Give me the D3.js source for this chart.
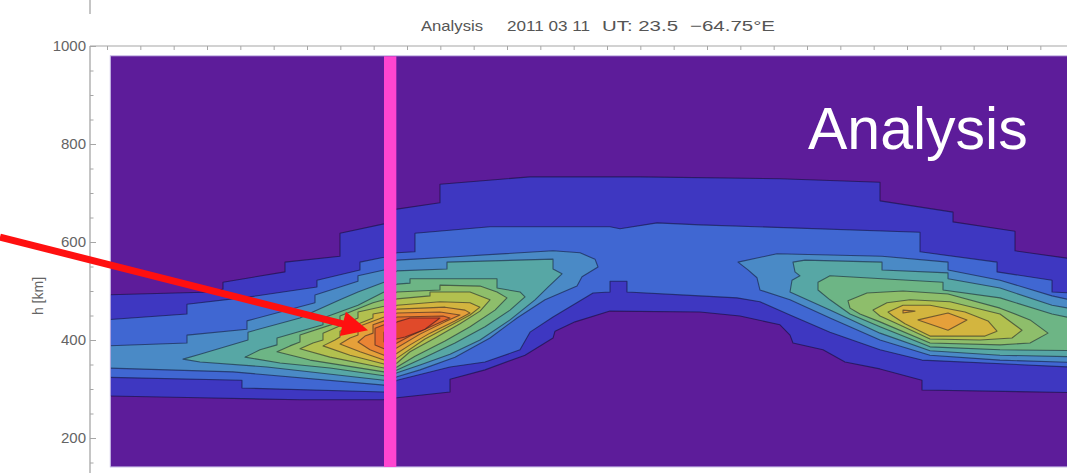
<!DOCTYPE html>
<html>
<head>
<meta charset="utf-8">
<script src="https://cdn.jsdelivr.net/npm/d3@7"></script>
<style>
  body { margin: 0; background: #fff; }
  svg { display: block; }
  text { font-family: "Liberation Sans", Arial, Helvetica, sans-serif; }
</style>
</head>
<body>
<svg id="chart" width="1067" height="473"></svg>
<script>
// ---------------- data ----------------
const titleParts = ["Analysis", "2011 03 11", "UT: 23.5", "\u221264.75\u00b0E"];
const panelLabel = "Analysis";
const yLabel = "h [km]";

const latTicks = [-60,-55,-50,-45,-40,-35,-30,-25,-20,-15,-10,-5,0,5,10,15,20,25,30,35,40,45,50,55,60,65,70,75,80,85];
const hMajorTicks = [200, 400, 600, 800, 1000];
const hMinorTicks = [150, 250, 300, 350, 450, 500, 550, 650, 700, 750, 850, 900, 950];

// extent of the gridded analysis (latitude, height)
const latExtent = [-59.5, 90];
const hExtent = [141, 980];

// highlighted meridian strip (latitude range)
const markerLat = [-18.45, -16.6];

// annotation arrow (latitude, height) from tail to tip
const arrowTail = [-76.05, 610];
const arrowTip = [-20.85, 420];

// fill colour for each contour level (0 = background)
const levelColors = ["#5d1c9a", "#3e37c1", "#4067d2", "#4a8ac6", "#57a7a5", "#6db585",
                     "#8ebe6b", "#b2c04f", "#d3b53f", "#e5a03a", "#ea8534", "#e7692e", "#e04a2a"];

// contour regions, [latitude, height km] vertices
const level1 = [[-60.3,492],[-44.1,498],[-42.6,504],[-42.6,518],[-33.3,539],[-33.3,559],[-25.05,571],[-25.05,618],
  [-18.45,637],[-17.55,641],[-17.55,665],[-10.05,680],[-10.05,718],[3.45,733],[19.95,733],[40.95,729],[55.95,722],
  [55.95,684],[66.9,661],[66.9,641],[76.2,622],[76.2,582],[84.0,567],[87.45,563],
  [87.45,292],[62.25,298],[62.25,318],[55.95,341],[50.7,355],[47.4,380],[42.9,394],[42.45,410],[40.95,431],
  [34.95,449],[28.95,457],[15.45,459],[10.2,437],[7.2,418],[6.9,404],[2.7,369],[-3.3,339],[-8.55,320],[-8.55,294],
  [-16.5,282],[-18.6,278],[-31.05,278],[-46.05,282],[-60.3,286]];

const level2 = [[-60.3,441],[-48.0,453],[-48.0,473],[-38.55,488],[-28.5,508],[-28.5,522],[-22.05,543],[-22.05,559],
  [-18.45,569],[-16.5,578],[-13.8,580],[-13.8,618],[-2.55,631],[15.45,631],[16.95,627],[22.5,639],[28.95,635],
  [61.95,620],[61.95,580],[73.5,559],[73.5,539],[81.75,522],[81.75,498],[87.45,494],
  [87.45,343],[62.25,359],[55.95,380],[48.45,416],[42.45,451],[37.95,478],[34.5,486],[28.95,490],[18.0,498],
  [18.0,520],[15.45,520],[15.45,498],[12.9,496],[6.9,447],[3.45,416],[1.95,380],[-3.3,355],[-8.55,345],
  [-16.5,318],[-18.45,294],[-39.75,302],[-39.75,318],[-60.3,324]];

const level3West = [[-60.3,388],[-48.0,394],[-48.0,410],[-39.0,422],[-39.0,439],[-28.8,476],[-28.8,492],[-22.35,520],
  [-22.35,531],[-18.45,543],[-16.5,563],[-13.8,565],[-9.0,569],[6.9,582],[10.95,578],[13.2,565],[13.65,549],
  [11.25,529],[10.5,510],[5.7,482],[1.5,445],[-2.55,404],[-7.8,365],[-13.05,339],[-16.5,325],[-18.45,308],
  [-41.1,335],[-60.3,343]];
const level3East = [[34.65,559],[40.5,576],[56.25,571],[66.15,559],[66.15,543],[73.95,522],[81.75,490],[87.45,473],
  [87.45,353],[73.95,359],[63.45,369],[55.95,400],[48.45,445],[42.45,482],[37.95,502],[37.5,527],[36.15,543]];

const level4West = [[-48.6,361],[-46.05,371],[-38.85,400],[-38.85,416],[-31.05,445],[-28.8,459],[-25.05,482],
  [-22.35,498],[-18.45,518],[-16.5,541],[-9.0,545],[-9.0,559],[6.9,565],[6.9,545],[8.25,535],
  [6.15,508],[4.2,482],[0.45,441],[-4.05,400],[-8.55,371],[-13.05,349],[-16.5,333],[-18.45,318],[-36.0,345],[-46.05,355]];
const level4East = [[42.9,559],[44.7,563],[56.25,559],[56.25,543],[66.15,537],[66.15,525],[73.95,506],[81.75,471],[87.45,457],
  [87.45,365],[73.95,369],[63.45,378],[55.95,414],[48.45,461],[42.45,498],[42.75,522],[43.95,531],[43.2,539]];

const level5West = [[-39.3,365],[-37.05,380],[-34.5,390],[-34.5,404],[-27.6,431],[-27.6,445],[-22.35,471],[-18.45,498],
  [-16.5,514],[-14.55,516],[-14.55,525],[-1.5,525],[-1.5,506],[1.95,498],[2.7,488],
  [0.45,461],[-3.3,427],[-7.8,394],[-12.3,365],[-16.5,339],[-18.45,327],[-26.55,343],[-34.05,353]];
const level5East = [[46.65,518],[48.45,531],[65.4,518],[65.4,502],[73.95,486],[81.75,453],[87.45,437],
  [87.45,378],[73.95,380],[63.45,386],[55.95,427],[51.45,453],[48.45,482],[46.65,502]];

const level6West = [[-34.5,376],[-32.55,388],[-31.05,396],[-31.05,410],[-25.05,437],[-25.05,449],[-20.1,476],[-18.45,482],
  [-16.5,498],[-10.05,502],[-10.05,512],[-4.05,510],[-1.5,498],[0.0,486],
  [-1.8,461],[-5.55,427],[-9.3,398],[-13.8,367],[-16.5,345],[-18.45,335],[-29.55,359]];
const level6East = [[51.15,480],[54.0,496],[59.4,500],[66.15,494],[73.95,465],[78.45,441],[81.15,414],
  [78.45,394],[73.95,390],[63.45,394],[55.95,437],[52.95,453],[51.45,465]];

const level7West = [[-31.05,382],[-29.1,394],[-27.6,400],[-27.6,414],[-22.35,445],[-22.35,457],[-18.45,469],[-16.5,484],
  [-11.55,490],[-11.55,498],[-5.55,498],[-2.55,482],
  [-4.05,459],[-7.05,433],[-10.8,404],[-14.55,376],[-16.5,353],[-18.45,343],[-26.55,365]];
const level7East = [[54.9,461],[57.0,476],[60.45,482],[66.45,478],[73.95,453],[77.25,420],
  [75.75,404],[70.95,400],[63.45,402],[58.2,435],[55.95,449]];

const level8West = [[-27.6,388],[-25.8,400],[-25.05,406],[-25.05,418],[-20.1,445],[-20.1,453],[-18.45,457],[-16.5,471],
  [-10.05,478],[-5.55,476],[-4.05,467],
  [-5.55,451],[-8.55,429],[-12.3,402],[-16.5,363],[-18.45,351],[-23.55,369]];
const level8East = [[57.15,457],[59.4,471],[63.45,471],[68.7,457],[72.15,439],[73.5,418],
  [71.7,408],[63.45,408],[59.7,433],[57.9,449]];

const level9West = [[-25.05,392],[-23.55,404],[-22.35,410],[-22.35,427],[-18.45,447],[-16.5,463],[-9.3,467],[-6.3,461],[-5.55,455],
  [-7.8,439],[-11.55,414],[-14.55,390],[-16.5,373],[-18.45,359],[-22.05,376]];
const level9EastSmall = [[59.4,461],[61.2,459],[59.4,455]];
const level9East = [[61.65,441],[66.15,455],[69.0,441],[66.15,420]];

const level10 = [[-22.35,396],[-21.3,408],[-20.1,414],[-20.1,431],[-18.45,439],[-16.5,455],[-10.05,457],[-7.05,451],
  [-9.3,437],[-13.05,412],[-16.5,384],[-18.45,369],[-20.55,380]];
const level11 = [[-19.8,390],[-19.8,424],[-18.45,431],[-16.5,447],[-9.6,449],[-8.55,445],[-10.8,431],[-14.55,408],[-16.5,394],[-18.45,382]];
const level12 = [[-18.45,416],[-16.5,437],[-14.55,445],[-10.05,445],[-12.3,422],[-15.3,406],[-18.45,396]];

// regions in drawing order, each tagged with its contour level
const regions = [
  {level: 1, ring: level1}, {level: 2, ring: level2},
  {level: 3, ring: level3West}, {level: 3, ring: level3East},
  {level: 4, ring: level4West}, {level: 4, ring: level4East},
  {level: 5, ring: level5West}, {level: 5, ring: level5East},
  {level: 6, ring: level6West}, {level: 6, ring: level6East},
  {level: 7, ring: level7West}, {level: 7, ring: level7East},
  {level: 8, ring: level8West}, {level: 8, ring: level8East},
  {level: 9, ring: level9West}, {level: 9, ring: level9EastSmall}, {level: 9, ring: level9East},
  {level: 10, ring: level10}, {level: 11, ring: level11}, {level: 12, ring: level12}
];

// ---------------- drawing ----------------
const svg = d3.select("#chart");
const x = d3.scaleLinear().domain([-60, 85]).range([107, 1073.67]);
const y = d3.scaleLinear().domain([1000, 200]).range([46, 438]);

const axisGray = "#a6a6a6";
const labelGray = "#646464";

// piece of the neighbouring frame above
svg.append("line").attr("x1", 90).attr("x2", 90).attr("y1", 0).attr("y2", 14)
  .attr("stroke", axisGray).attr("stroke-width", 1.3);

const px0 = x(latExtent[0]), px1 = x(latExtent[1]);
const py0 = y(hExtent[1]), py1 = y(hExtent[0]);

svg.append("defs").append("clipPath").attr("id", "plotClip")
  .append("rect").attr("x", px0).attr("y", py0).attr("width", px1 - px0).attr("height", py1 - py0);

const plot = svg.append("g").attr("clip-path", "url(#plotClip)");
plot.append("rect").attr("x", px0).attr("y", py0).attr("width", px1 - px0).attr("height", py1 - py0)
  .attr("fill", levelColors[0]);

const line = d3.line().x(d => x(d[0])).y(d => y(d[1]));
plot.selectAll("path.band").data(regions).join("path")
  .attr("class", "band")
  .attr("d", d => line(d.ring) + "Z")
  .attr("fill", d => levelColors[d.level])
  .attr("stroke", "#0a0a20")
  .attr("stroke-opacity", 0.5)
  .attr("stroke-width", 1.1)
  .attr("stroke-linejoin", "round");

// thin light edge of the gridded area
svg.append("rect").attr("x", px0).attr("y", py0).attr("width", px1 - px0).attr("height", py1 - py0)
  .attr("fill", "none").attr("stroke", "#bfb0e2").attr("stroke-width", 1);

// highlighted strip
svg.append("rect")
  .attr("x", x(markerLat[0])).attr("width", x(markerLat[1]) - x(markerLat[0]))
  .attr("y", py0 + 0.5).attr("height", py1 - py0 - 0.5)
  .attr("fill", "#ff45d0");

// frame lines
svg.append("line").attr("x1", 90).attr("x2", 1067).attr("y1", 46).attr("y2", 46)
  .attr("stroke", axisGray).attr("stroke-width", 1.2);
svg.append("line").attr("x1", 90).attr("x2", 90).attr("y1", 46).attr("y2", 473)
  .attr("stroke", axisGray).attr("stroke-width", 1.3);

// top ticks
const topAxis = svg.append("g").attr("transform", "translate(0,46)")
  .call(d3.axisTop(x).tickValues(latTicks).tickSize(-4).tickFormat(""));
topAxis.select(".domain").remove();
topAxis.selectAll("line").attr("stroke", axisGray);

// height axis: minor and major ticks point inward, labels on the left
const yMinor = svg.append("g").attr("transform", "translate(90,0)")
  .call(d3.axisLeft(y).tickValues(hMinorTicks).tickSize(-3.5).tickFormat(""));
yMinor.select(".domain").remove();
yMinor.selectAll("line").attr("stroke", axisGray);

const yMajor = svg.append("g").attr("transform", "translate(90,0)")
  .call(d3.axisLeft(y).tickValues(hMajorTicks).tickSize(-6).tickPadding(4).tickFormat(d3.format("d")));
yMajor.select(".domain").remove();
yMajor.selectAll("line").attr("stroke", axisGray);
yMajor.selectAll("text").attr("font-size", 15).attr("fill", labelGray)
  .attr("font-family", "'Liberation Sans', Arial, sans-serif");

svg.append("text")
  .attr("transform", "translate(43,296) rotate(-90)")
  .attr("text-anchor", "middle")
  .attr("font-size", 14).attr("fill", labelGray)
  .text(yLabel);

// title pieces
const titleX = [421, 507, 602, 690];
const titleW = [62, 83, 76, 85];
svg.append("g").selectAll("text").data(titleParts).join("text")
  .attr("x", (d, i) => titleX[i]).attr("y", 31)
  .attr("font-size", 15).attr("fill", "#555")
  .attr("textLength", (d, i) => titleW[i]).attr("lengthAdjust", "spacingAndGlyphs")
  .text(d => d);

// panel label
svg.append("text").attr("x", 808).attr("y", 149)
  .attr("font-size", 59).attr("fill", "#ffffff")
  .text(panelLabel);

// annotation arrow
const p0 = [x(arrowTail[0]), y(arrowTail[1])];
const p1 = [x(arrowTip[0]), y(arrowTip[1])];
const dx = p1[0] - p0[0], dy = p1[1] - p0[1];
const len = Math.hypot(dx, dy);
const ux = dx / len, uy = dy / len, nx = -uy, ny = ux;
const headLen = 26, headHalf = 12.5;
const bx = p1[0] - ux * headLen, by = p1[1] - uy * headLen;
svg.append("line").attr("x1", p0[0]).attr("y1", p0[1]).attr("x2", bx + ux * 2).attr("y2", by + uy * 2)
  .attr("stroke", "#ff1010").attr("stroke-width", 7);
svg.append("path")
  .attr("d", `M${p1[0]},${p1[1]}L${bx + nx * headHalf},${by + ny * headHalf}L${bx - nx * headHalf},${by - ny * headHalf}Z`)
  .attr("fill", "#ff1010");
</script>
</body>
</html>
